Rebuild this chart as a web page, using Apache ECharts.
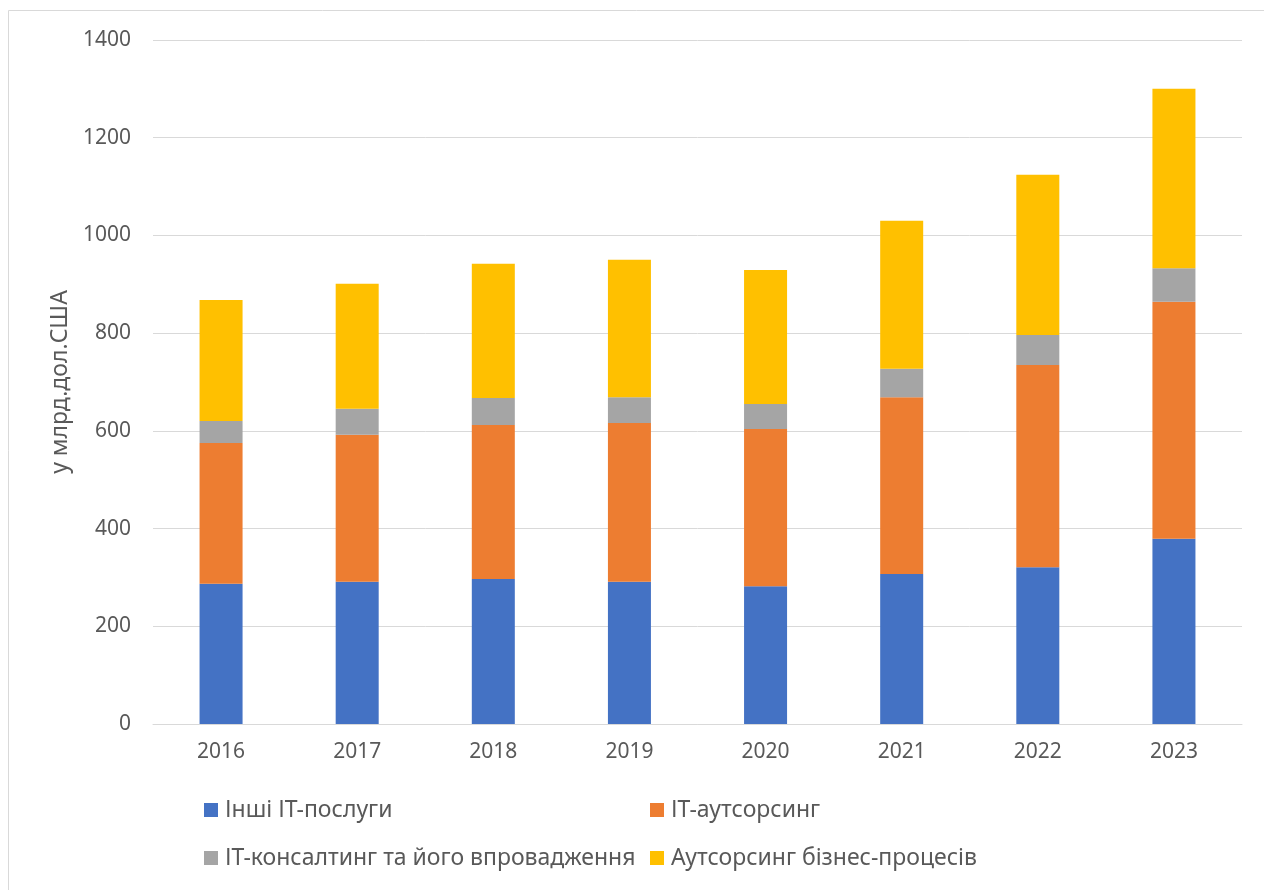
<!DOCTYPE html>
<html><head><meta charset="utf-8">
<script src="https://cdn.jsdelivr.net/npm/echarts@6/dist/echarts.min.js"></script>
<style>html,body{margin:0;padding:0;background:#fff}#c{width:1264px;height:890px}</style>
</head><body><div id="c"></div>
<script>
const years = ['2016','2017','2018','2019','2020','2021','2022','2023'];
const otherIT = [287, 291, 297, 291, 282, 307, 321, 379];
const itOutsourcing = [288, 301, 315, 325, 322, 362, 414, 485];
const itConsulting = [45, 53, 55, 53, 51, 58, 61, 69];
const bpo = [248, 256, 275, 281, 274, 303, 328, 367];
const seriesNames = ['Інші ІТ-послуги','ІТ-аутсорсинг','ІТ-консалтинг та його впровадження','Аутсорсинг бізнес-процесів'];
const colors = ['#4472C4','#ED7D31','#A5A5A5','#FFC000'];
const datasets = [otherIT, itOutsourcing, itConsulting, bpo];
const FONT = 'Noto Sans';
const chart = echarts.init(document.getElementById('c'));
const legendPos = [[204,796],[650,796],[204,844],[650,844]];
chart.setOption({
  animation:false,
  textStyle:{fontFamily:FONT},
  graphic:[{type:'rect',shape:{x:8.5,y:10.5,width:1300,height:1000},style:{fill:null,stroke:'#d9d9d9',lineWidth:1},silent:true}],
  grid:{left:153,right:22,top:40,bottom:166},
  legend: seriesNames.map((n,i)=>({data:[n],left:legendPos[i][0],top:legendPos[i][1],padding:0,itemWidth:14,itemHeight:14,itemGap:5,icon:'rect',textStyle:{fontFamily:FONT,fontSize:23,lineHeight:28,color:'#595959',padding:[0,0,0,2]}})),
  xAxis:{type:'category',data:years,axisLine:{lineStyle:{color:'#d9d9d9',width:1}},axisTick:{show:false},axisLabel:{color:'#595959',fontSize:21,margin:18,fontFamily:FONT}},
  yAxis:{type:'value',min:0,max:1400,interval:200,name:'у млрд.дол.США',nameLocation:'middle',nameGap:80,nameTextStyle:{color:'#595959',fontSize:23,fontFamily:FONT},axisLabel:{color:'#595959',fontSize:21,margin:22,fontFamily:FONT,formatter:v=>String(v)},splitLine:{lineStyle:{color:'#d9d9d9',width:1}},axisLine:{show:false},axisTick:{show:false}},
  series: datasets.map((d,i)=>({name:seriesNames[i],type:'bar',stack:'t',data:d,barWidth:'31.6%',itemStyle:{color:colors[i]}}))
});
</script></body></html>
